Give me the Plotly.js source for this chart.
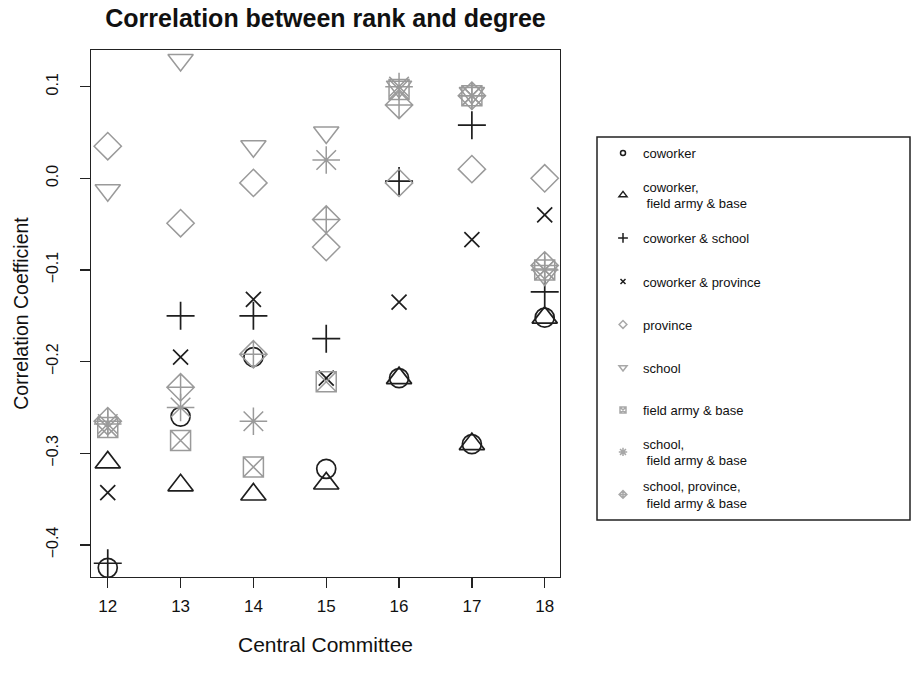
<!DOCTYPE html>
<html>
<head>
<meta charset="utf-8">
<script src="https://cdn.plot.ly/plotly-3.0.1.min.js"></script>
<style>
html, body { margin: 0; padding: 0; background: #fff; }
#chart { width: 914px; height: 680px; }
</style>
</head>
<body>
<div id="chart"></div>
<script>
// Central Committee (x axis)
const committees = [12, 13, 14, 15, 16, 17, 18];
const yTickValues = [-0.4, -0.3, -0.2, -0.1, 0.0, 0.1];

// Correlation coefficients per network type
const coworker                    = [-0.425, -0.260, -0.195, -0.317, -0.218, -0.290, -0.152];
const coworkerFieldArmyBase       = [-0.310, -0.335, -0.345, -0.333, -0.218, -0.290, -0.152];
const coworkerSchool              = [-0.420, -0.150, -0.150, -0.175, -0.003,  0.058, -0.124];
const coworkerProvince            = [-0.343, -0.195, -0.132, -0.218, -0.135, -0.067, -0.040];
const province                    = [ 0.035, -0.049, -0.005, -0.075, -0.005,  0.010,  0.000];
const school                      = [-0.013,  0.129,  0.035,  0.050,  0.100,  0.093, -0.105];
const fieldArmyBase               = [-0.272, -0.286, -0.315, -0.222,  0.097,  0.090, -0.100];
const schoolFieldArmyBase         = [-0.268, -0.250, -0.265,  0.020,  0.100,  0.090, -0.100];
const schoolProvinceFieldArmyBase = [-0.265, -0.228, -0.192, -0.045,  0.080,  0.090, -0.095];

const seriesNames = [
  'coworker',
  'coworker,<br> field army & base',
  'coworker & school',
  'coworker & province',
  'province',
  'school',
  'field army & base',
  'school,<br> field army & base',
  'school, province,<br> field army & base'
];
const seriesValues = [coworker, coworkerFieldArmyBase, coworkerSchool, coworkerProvince,
  province, school, fieldArmyBase, schoolFieldArmyBase, schoolProvinceFieldArmyBase];

// styles
const BLACK = '#1e1e1e', GRAY = '#9a9a9a', LGRAY = '#a8a8a8';
const styles = [
  {symbol: 'circle-open',        size: 19, color: BLACK, w: 1.7, ls: 5},
  {symbol: 'triangle-up-open',   size: 22, color: BLACK, w: 1.7, ls: 7},
  {symbol: 'cross-thin-open',    size: 20, color: BLACK, w: 1.7, ls: 7},
  {symbol: 'x-thin-open',        size: 15, color: BLACK, w: 1.7, ls: 5},
  {symbol: 'diamond-open',       size: 21, color: GRAY,  w: 1.5, ls: 6},
  {symbol: 'triangle-down-open', size: 22, color: GRAY,  w: 1.5, ls: 7},
  {symbol: 'square-x-open',      size: 20, color: GRAY,  w: 1.5, ls: 6},
  {symbol: 'asterisk-open',      size: 23, color: GRAY,  w: 1.5, ls: 7},
  {symbol: 'diamond-cross-open', size: 21, color: GRAY,  w: 1.5, ls: 6}
];

// legend item vertical centres (pixels in the 680px page)
const legendCentersPx = [153, 195, 238, 281.5, 324.5, 367.5, 410, 452, 494.5];

const traces = [];
seriesValues.forEach((vals, i) => {
  const s = styles[i];
  traces.push({
    type: 'scatter', mode: 'markers', x: committees, y: vals,
    name: seriesNames[i], showlegend: false, hoverinfo: 'x+y',
    marker: {symbol: s.symbol, size: s.size, color: s.color, line: {color: s.color, width: s.w}}
  });
});
// legend entries (small symbols as in the reference legend)
seriesValues.forEach((vals, i) => {
  const s = styles[i];
  const lc = s.color === GRAY ? LGRAY : s.color;
  traces.push({
    type: 'scatter', mode: 'markers', x: [null], y: [null],
    name: seriesNames[i], showlegend: true,
    legend: i === 0 ? 'legend' : 'legend' + (i + 1),
    marker: {symbol: s.symbol, size: s.ls, color: lc, line: {color: lc, width: 1.5}}
  });
});

const FONT = 'Liberation Sans, Arial, Helvetica, sans-serif';
const layout = {
  width: 914, height: 680,
  paper_bgcolor: '#fff', plot_bgcolor: '#fff',
  margin: {l: 91, r: 354, t: 50, b: 103},
  font: {family: FONT, color: '#111'},
  title: {
    text: 'Correlation between rank and degree',
    font: {family: FONT, size: 25, weight: 'bold', color: '#111'},
    x: 0.5, xref: 'paper', xanchor: 'center',
    y: 1 - 18 / 680, yref: 'container', yanchor: 'middle'
  },
  xaxis: {
    range: [11.77, 18.21], tickvals: committees, ticktext: committees.map(String),
    showgrid: false, zeroline: false,
    showline: true, mirror: true, linecolor: '#222', linewidth: 1.3,
    ticks: 'outside', ticklen: 10, tickwidth: 1.3, tickcolor: '#222',
    ticklabelstandoff: 3,
    tickfont: {family: FONT, size: 17, color: '#111'},
    title: {text: 'Central Committee', font: {family: FONT, size: 21, color: '#111'}, standoff: 22}
  },
  yaxis: {
    range: [-0.435, 0.14], tickvals: yTickValues, tickformat: '.1f',
    showgrid: false, zeroline: false,
    showline: true, mirror: true, linecolor: '#222', linewidth: 1.3,
    ticks: 'outside', ticklen: 10, tickwidth: 1.3, tickcolor: '#222',
    tickangle: -90, ticklabelstandoff: 15,
    tickfont: {family: FONT, size: 16, color: '#111'},
    title: {text: 'Correlation Coefficient', font: {family: FONT, size: 19.5, color: '#111'}, standoff: 10}
  },
  shapes: [{
    type: 'rect', xref: 'paper', yref: 'paper',
    x0: (597 - 91) / 469, x1: (910 - 91) / 469,
    y0: (577 - 520) / 527, y1: (577 - 137) / 527,
    line: {color: '#222', width: 1.5}, fillcolor: 'rgba(0,0,0,0)'
  }]
};
legendCentersPx.forEach((py, i) => {
  const key = i === 0 ? 'legend' : 'legend' + (i + 1);
  layout[key] = {
    xref: 'container', yref: 'container',
    x: 603 / 914, xanchor: 'left',
    y: 1 - py / 680, yanchor: 'middle',
    bgcolor: 'rgba(0,0,0,0)', borderwidth: 0,
    font: {family: FONT, size: 13, color: '#111'},
    itemclick: false, itemdoubleclick: false
  };
});

Plotly.newPlot('chart', traces, layout, {displayModeBar: false, staticPlot: true});
</script>
</body>
</html>
